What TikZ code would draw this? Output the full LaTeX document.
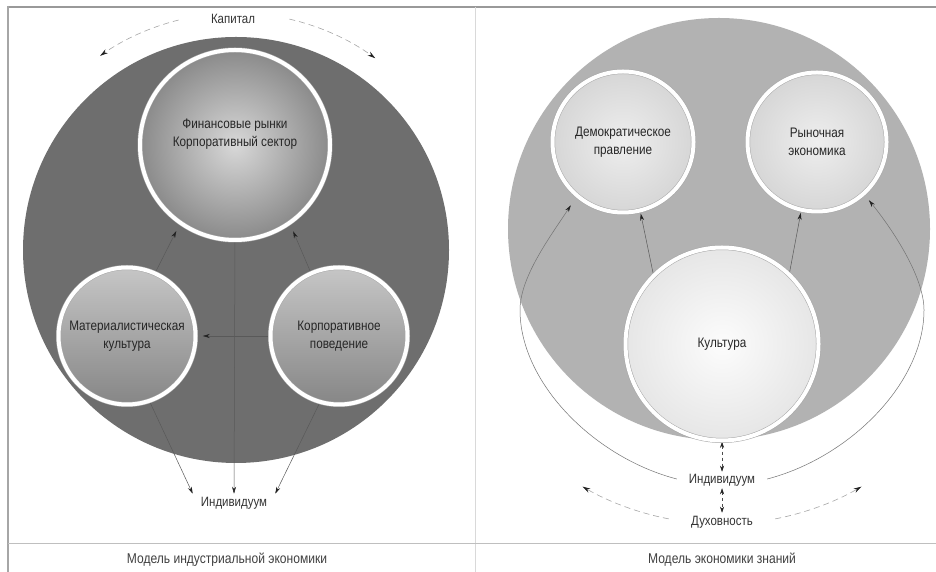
\documentclass[tikz,border=0pt]{standalone}
\usepackage{fontspec}
\setmainfont{Liberation Sans}[FakeStretch=0.85]
\usetikzlibrary{arrows.meta,calc}
\pgfdeclarelayer{back}
\pgfdeclarelayer{mid}
\pgfsetlayers{back,mid,main}
\definecolor{bigLgray}{HTML}{6E6E6E}
\definecolor{bigRgray}{HTML}{B2B2B2}
\definecolor{lcTop}{HTML}{C6C6C6}
\definecolor{lcBot}{HTML}{868686}
\definecolor{tcIn}{HTML}{D8D8D8}
\definecolor{tcOut}{HTML}{8A8A8A}
\definecolor{dcIn}{HTML}{EEEEEE}
\definecolor{dcOut}{HTML}{D6D6D6}
\definecolor{ccIn}{HTML}{FCFCFC}
\definecolor{ccOut}{HTML}{E6E6E6}
\definecolor{tipcol}{HTML}{222222}
\begin{document}
\begin{tikzpicture}[x=1pt,y=1pt,
  txt/.style={font=\fontsize{13.8}{18}\selectfont, text=black!85, align=center, inner sep=0pt},
  lbl/.style={font=\fontsize{13.5}{16}\selectfont, text=black!80, align=center, fill=white},
  captext/.style={font=\fontsize{14.2}{16}\selectfont, text=black!75, inner sep=1pt},
  bub/.style={circle, inner sep=0pt, draw=black!35, double=white, double distance=4pt, line width=0.5pt,
              font=\fontsize{13.8}{18}\selectfont, text=black!85, align=center},
  arr/.style={-{Stealth[length=7pt,width=4pt,color=tipcol]}, draw=black!65, line width=0.5pt},
  arrb/.style={{Stealth[length=6pt,width=4pt,color=tipcol]}-{Stealth[length=6pt,width=4pt,color=tipcol]}, draw=black!70, line width=0.5pt},
  dasharc/.style={-{Stealth[length=8pt,width=4.5pt,color=tipcol]}, draw=black!35, line width=0.6pt, dash pattern=on 6pt off 4pt},
  thincurve/.style={{Stealth[length=7pt,width=4pt,color=tipcol]}-{Stealth[length=7pt,width=4pt,color=tipcol]}, draw=black!55, line width=0.5pt},
]
\useasboundingbox (0,0) rectangle (936,572);
\begin{pgfonlayer}{back}
  \fill[white] (0,0) rectangle (936,572);
  % frame
  \draw[line width=2pt, black!40] (8,565) -- (936,565);
  \draw[line width=1.5pt, black!35] (8,566) -- (8,0);
  \draw[line width=0.8pt, black!15] (475,565) -- (475,0);
  \draw[line width=0.8pt, black!25] (8,29) -- (936,29);
  % big circles
  \node[circle, minimum size=426pt, inner sep=0pt, fill=bigLgray] (bigL) at (236,322) {};
  \node[circle, minimum size=422pt, inner sep=0pt, fill=bigRgray] (bigR) at (719,343) {};
\end{pgfonlayer}

% ---------------- left panel ----------------
\node[bub, minimum size=190pt, shading=radial, inner color=tcIn, outer color=tcOut] (tc) at (235,427) {};
\node[txt] (tctext) at ($(tc.center)+(0,11)$) {Финансовые рынки\\Корпоративный сектор};
\node[bub, minimum size=137pt, top color=lcTop, bottom color=lcBot] (lc) at (127,236) {Материалистическая\\культура};
\node[bub, minimum size=137pt, top color=lcTop, bottom color=lcBot] (rc) at (339,236) {Корпоративное\\поведение};
\node[lbl, inner xsep=8pt, inner ysep=3pt] (ind) at (234,69) {Индивидуум};
\node[lbl, inner sep=2pt] (kap) at (233,553) {Капитал};
\node[captext] (cap1) at (227,12) {Модель индустриальной экономики};

\begin{pgfonlayer}{mid}
  \draw[arr, shorten >=9pt] (lc.66) -- (tc.-125);
  \draw[arr, shorten >=9pt] (rc.114) -- (tc.-55);
  \draw[arr, shorten >=7pt] (rc.west) -- (lc.east);
  \draw[arr] (tc.south) -- (ind.north);
  \draw[arr] (lc.-71) -- (ind.north west);
  \draw[arr] (rc.-106) -- (ind.north east);
  \draw[dasharc] ($(bigL.center)+(104:237)$) arc[start angle=104, end angle=125, radius=237];
  \draw[dasharc] ($(bigL.center)+(77:237)$) arc[start angle=77, end angle=54, radius=237];
\end{pgfonlayer}

% ---------------- right panel ----------------
\node[bub, minimum size=141pt, shading=radial, inner color=dcIn, outer color=dcOut] (dc) at (623,430) {Демократическое\\правление};
\node[bub, minimum size=139pt, shading=radial, inner color=dcIn, outer color=dcOut] (mc) at (817,430) {Рыночная\\экономика};
\node[bub, minimum size=193pt, shading=radial, inner color=ccIn, outer color=ccOut] (cc) at (722,228) {Культура};
\node[lbl, inner xsep=12pt, inner ysep=2pt] (ind2) at (722,92) {Индивидуум};
\node[lbl, inner xsep=3pt, inner ysep=2pt] (duh) at (722,50) {Духовность};
\node[captext] (cap2) at (722,12) {Модель экономики знаний};

\coordinate (tL) at ($(dc.center)+(-129.5:82)$);
\coordinate (tR) at ($(mc.center)+(-48.3:78)$);
\coordinate (bot) at (722,87);

\begin{pgfonlayer}{mid}
  \draw[arr, shorten >=3pt] (cc.135) -- (dc.-76);
  \draw[arr, shorten >=3pt] (cc.46) -- (mc.-103);
  \draw[thincurve] (tL) .. controls (550,335) and (520,295) .. (520,262)
        .. controls (520,175) and (625,87) .. (bot)
        .. controls (819,87) and (924,175) .. (924,262)
        .. controls (924,295) and (893,342) .. (tR);
  \draw[arrb, dashed, shorten <=1pt] (cc.south) -- (ind2.north);
  \draw[arrb, dashed, shorten >=1pt] (ind2.south) -- (duh.north);
  \draw[dasharc] ($(722,327)+(259:279)$) arc[start angle=259, end angle=240, radius=279];
  \draw[dasharc] ($(722,327)+(281:279)$) arc[start angle=281, end angle=300, radius=279];
\end{pgfonlayer}
\end{tikzpicture}
\end{document}
